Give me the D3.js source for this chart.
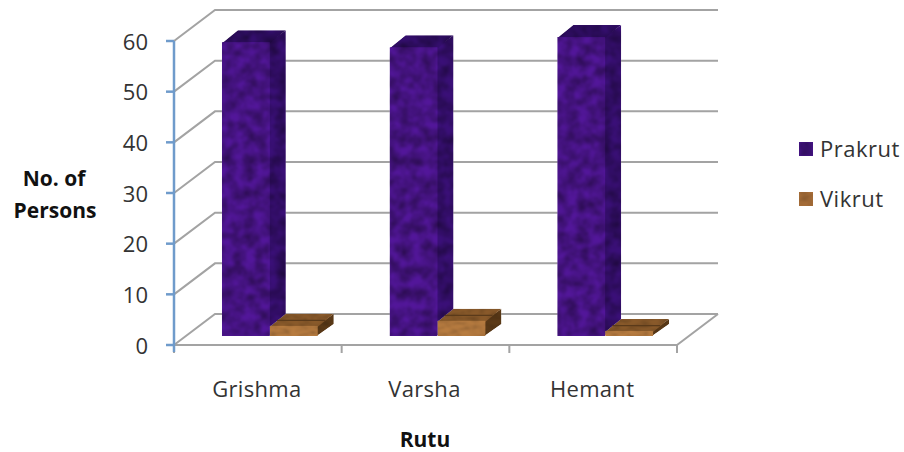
<!DOCTYPE html>
<html>
<head>
<meta charset="utf-8">
<script src="https://cdn.jsdelivr.net/npm/d3@7/dist/d3.min.js"></script>
<style>
  html, body { margin: 0; padding: 0; background: #fff; }
  svg { display: block; }
  text { font-family: "Open Sans", "Noto Sans", sans-serif; fill: #333; }
</style>
</head>
<body>
<svg id="chart" width="904" height="452"></svg>
<script>
const categories = ["Grishma", "Varsha", "Hemant"];
const seriesNames = ["Prakrut", "Vikrut"];
const prakrut = [58, 57, 59];
const vikrut = [2, 3, 1];
const yTicks = [0, 10, 20, 30, 40, 50, 60];

const svg = d3.select("#chart");
const floorLeft = 174, floorRight = 677, floorY = 345, topY = 41;
const wall = { dx: 41, dy: -31 };          // depth of the whole 3D box
const plane = { dx: 12, dy: -9 };          // where the bars stand inside the box
const depth = { dx: 16, dy: -12 };         // depth of a bar

const x = d3.scaleBand().domain(categories).range([floorLeft, floorRight]);
const xs = d3.scaleBand().domain(seriesNames).range([0, x.bandwidth()])
  .paddingInner(0).paddingOuter(0.75);
const y = d3.scaleLinear().domain([0, 60]).range([floorY, topY]);

const defs = svg.append("defs");

// Mottled surfaces: grey turbulence multiplied over the face colours
function mottled(id, freq, gain, offset) {
  const f = defs.append("filter").attr("id", id)
    .attr("x", "0").attr("y", "0").attr("width", "1").attr("height", "1")
    .attr("color-interpolation-filters", "sRGB");
  f.append("feTurbulence").attr("type", "fractalNoise")
    .attr("baseFrequency", freq).attr("numOctaves", 3).attr("seed", 11).attr("result", "n");
  const row = `${gain} 0 0 0 ${offset}`;
  f.append("feColorMatrix").attr("in", "n").attr("type", "matrix")
    .attr("values", `${row} ${row} ${row} 0 0 0 0 1`).attr("result", "c");
  f.append("feGaussianBlur").attr("in", "c").attr("stdDeviation", 1).attr("result", "b");
  f.append("feBlend").attr("in", "b").attr("in2", "SourceGraphic").attr("mode", "multiply").attr("result", "m");
  f.append("feComposite").attr("in", "m").attr("in2", "SourceAlpha").attr("operator", "in");
}
mottled("purpleGrain", "0.09", 0.75, 0.45);
mottled("brownGrain", "0.1 0.4", 0.6, 0.65);

// Gridlines running along the side and back walls
const grid = "#a3a3a3";
const gridG = svg.append("g").attr("fill", "none").attr("stroke", grid).attr("stroke-width", 2);
gridG.selectAll("path.grid").data(yTicks).join("path").attr("class", "grid")
  .attr("d", t => d3.line()([
    [floorLeft, y(t)],
    [floorLeft + wall.dx, y(t) + wall.dy],
    [floorRight + wall.dx, y(t) + wall.dy]
  ]));

// Floor front edge and right return
gridG.append("path").attr("d", d3.line()([
  [floorLeft, floorY], [floorRight, floorY], [floorRight + wall.dx, floorY + wall.dy]
]));

// Category ticks
gridG.selectAll("line.tick").data(d3.range(categories.length + 1)).join("line").attr("class", "tick")
  .attr("x1", i => floorLeft + i * x.step()).attr("x2", i => floorLeft + i * x.step())
  .attr("y1", floorY).attr("y2", floorY + 8);

// Value axis
const axisG = svg.append("g").attr("stroke", "#6f9bcb").attr("stroke-width", 2.5).attr("fill", "none");
axisG.append("line").attr("x1", floorLeft).attr("x2", floorLeft).attr("y1", topY).attr("y2", floorY + 7);
axisG.selectAll("line.tick").data(yTicks).join("line").attr("class", "tick")
  .attr("x1", floorLeft - 8).attr("x2", floorLeft).attr("y1", t => y(t)).attr("y2", t => y(t));

svg.append("g").selectAll("text").data(yTicks).join("text")
  .attr("x", 148).attr("y", t => y(t) + 8.5)
  .attr("text-anchor", "end").attr("font-size", 22).text(t => t);

// Bars: a front face with a top and side in darker shades
const colors = {
  Prakrut: { front: "#52169a", side: "#3a0f78", top: "#340e6e", legend: "#4a1590", grain: "url(#purpleGrain)" },
  Vikrut: { front: "#b87c40", side: "#5c3a17", top: "#8a5a2a", legend: "#a86e38", grain: "url(#brownGrain)" }
};

const bars = [];
categories.forEach((c, i) => {
  bars.push({ cat: c, s: "Prakrut", v: prakrut[i] });
  bars.push({ cat: c, s: "Vikrut", v: vikrut[i] });
});

const geom = d => {
  const x0 = x(d.cat) + xs(d.s) + plane.dx, x1 = x0 + xs.bandwidth();
  const y0 = y(0) + plane.dy, y1 = y(d.v) + plane.dy;
  return { x0, x1, y0, y1 };
};
const poly = pts => d3.line()(pts) + "Z";

const barG = svg.append("g").selectAll("g").data(bars).join("g");
const faces = barG.append("g").attr("filter", d => colors[d.s].grain);
faces.append("path").attr("fill", d => colors[d.s].side)
  .attr("d", d => { const g = geom(d); return poly([
    [g.x1 - 1, g.y0], [g.x1 + depth.dx, g.y0 + depth.dy], [g.x1 + depth.dx, g.y1 + depth.dy], [g.x1 - 1, g.y1]]); });
faces.append("path").attr("fill", d => colors[d.s].top)
  .attr("d", d => { const g = geom(d); return poly([
    [g.x0, g.y1 + 1], [g.x0 + depth.dx, g.y1 + depth.dy], [g.x1 + depth.dx, g.y1 + depth.dy], [g.x1, g.y1 + 1]]); });
faces.append("rect").attr("fill", d => colors[d.s].front)
  .attr("x", d => geom(d).x0).attr("y", d => geom(d).y1)
  .attr("width", xs.bandwidth()).attr("height", d => geom(d).y0 - geom(d).y1);

// Thin seam across the top face of the short bars
barG.filter(d => d.s === "Vikrut").append("path")
  .attr("stroke", "#5a3a1a").attr("stroke-width", 1.2).attr("fill", "none")
  .attr("d", d => { const g = geom(d); return d3.line()([
    [g.x0 + depth.dx * 0.45, g.y1 + depth.dy * 0.45], [g.x1 + depth.dx * 0.45, g.y1 + depth.dy * 0.45]]); });

// Category labels
svg.append("g").selectAll("text").data(categories).join("text")
  .attr("x", c => x(c) + x.bandwidth() / 2 - 1).attr("y", 397)
  .attr("text-anchor", "middle").attr("font-size", 22).attr("letter-spacing", 0.3).text(c => c);

// Axis titles
const title = svg.append("g").attr("font-weight", 700).attr("font-size", 21);
title.append("text").attr("x", 54).attr("y", 186).attr("text-anchor", "middle").style("fill", "#111").text("No. of");
title.append("text").attr("x", 55).attr("y", 218).attr("text-anchor", "middle").style("fill", "#111").text("Persons");
title.append("text").attr("x", 425).attr("y", 447).attr("text-anchor", "middle").style("fill", "#111").text("Rutu");

// Legend
const legendY = d3.scalePoint().domain(seriesNames).range([149, 199]);
const legend = svg.append("g").selectAll("g").data(seriesNames).join("g");
legend.append("rect").attr("x", 799).attr("width", 14).attr("height", 14)
  .attr("y", s => legendY(s) - 7).attr("fill", s => colors[s].legend).attr("filter", s => colors[s].grain);
legend.append("text").attr("x", 820).attr("y", s => legendY(s) + 7.5)
  .attr("font-size", 22).attr("letter-spacing", 0.5).text(s => s);
</script>
</body>
</html>
